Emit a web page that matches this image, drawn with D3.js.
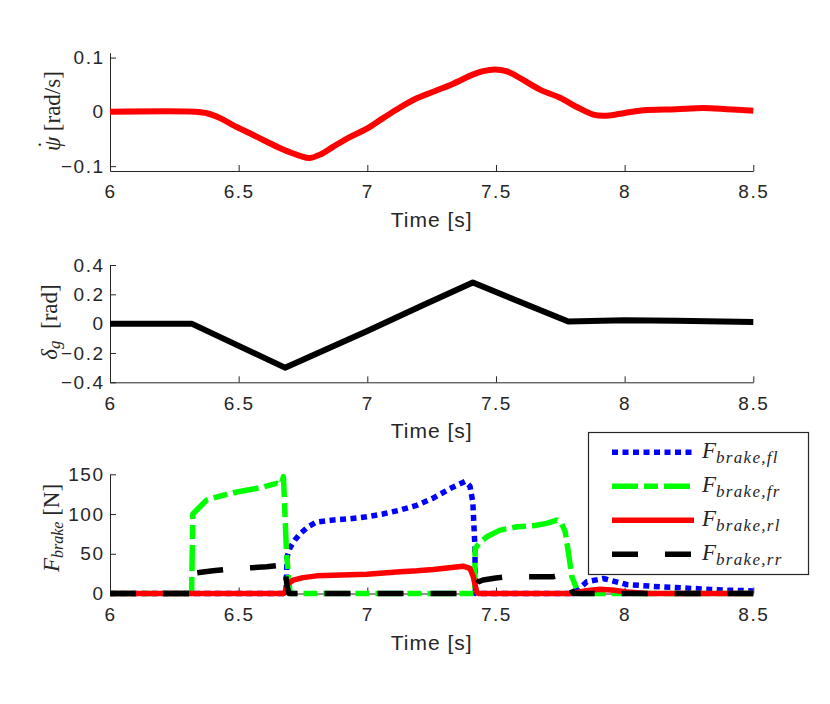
<!DOCTYPE html>
<html>
<head>
<meta charset="utf-8">
<script src="https://cdn.jsdelivr.net/npm/d3@7"></script>
<style>
  body { margin: 0; background: #fff; }
  svg { display: block; }
  .axis text { font-family: "Liberation Sans", Arial, sans-serif; font-size: 19px; letter-spacing: 1.5px; fill: #262626; }
  .axis path, .axis line { stroke: #262626; stroke-width: 1; }
  .xlabel { font-family: "Liberation Sans", Arial, sans-serif; font-size: 21px; letter-spacing: 1px; fill: #262626; }
  .ylabel, .leg { font-family: "Liberation Serif", "Times New Roman", serif; fill: #262626; }
</style>
</head>
<body>
<svg id="chart" width="830" height="704"></svg>
<script>
// ---- data ----
var xTicks = [6, 6.5, 7, 7.5, 8, 8.5];

// yaw rate [rad/s]
var yawT = [6.0, 6.33, 6.38, 6.43, 6.48, 6.545, 6.609, 6.675, 6.738, 6.777, 6.82, 6.868, 6.93, 6.998, 7.06, 7.127,
            7.192, 7.256, 7.334, 7.412, 7.45, 7.496, 7.54, 7.58, 7.671, 7.749, 7.814, 7.878, 7.93, 8.0, 8.072, 8.2,
            8.306, 8.397, 8.5];
var yawV = [0, 0, -0.003, -0.012, -0.025, -0.040, -0.055, -0.070, -0.081, -0.085, -0.078, -0.064, -0.047, -0.031, -0.012, 0.008,
            0.025, 0.037, 0.052, 0.069, 0.075, 0.078, 0.075, 0.066, 0.041, 0.026, 0.009, -0.005, -0.007, -0.002, 0.003, 0.005,
            0.007, 0.005, 0.002];
var yawTicks = [-0.1, 0, 0.1];

// steering angle [rad]
var deltaT = [6.0, 6.317, 6.68, 7.0, 7.205, 7.41, 7.781, 8.0, 8.2, 8.5];
var deltaV = [0, 0, -0.30, -0.05, 0.117, 0.28, 0.014, 0.024, 0.02, 0.012];
var deltaTicks = [-0.4, -0.2, 0, 0.2, 0.4];

// brake forces [N]
var flT = [6.0, 6.684, 6.688, 6.70, 6.72, 6.738, 6.77, 6.803, 6.868, 6.93, 6.998, 7.06, 7.127, 7.192, 7.256, 7.321,
           7.38, 7.399, 7.41, 7.418, 7.42, 7.80, 7.83, 7.853, 7.917, 8.008, 8.137, 8.267, 8.397, 8.5];
var flV = [0, 0, 46, 58, 68, 75, 84, 90, 92.5, 94, 96.5, 100, 105, 111, 120, 132,
           141, 135, 115, 60, 0, 0, 8, 14.7, 18.9, 11.3, 8.4, 6.3, 4.2, 3.3];

var frT = [6.0, 6.317, 6.322, 6.34, 6.376, 6.42, 6.479, 6.53, 6.583, 6.648, 6.665, 6.674, 6.68, 6.686, 6.70,
           7.417, 7.419, 7.44, 7.464, 7.516, 7.581, 7.645, 7.697, 7.736, 7.755, 7.769, 7.782, 7.795, 7.815, 7.83, 8.5];
var frV = [0, 0, 100, 106, 117.6, 122, 126.8, 130, 133, 138.6, 137, 147, 100, 50, 0,
           0, 56.7, 65, 71.4, 79.8, 84, 85.2, 88.2, 92.4, 88, 77.7, 50.4, 21, 5, 0, 0];

var rlT = [6.0, 6.675, 6.68, 6.693, 6.712, 6.75, 6.803, 6.868, 6.998, 7.127, 7.192, 7.256, 7.372, 7.399, 7.412,
           7.425, 7.432, 7.80, 7.85, 7.905, 7.96, 8.008, 8.086, 8.5];
var rlV = [0, 0, 2, 12.6, 16.8, 20, 22.2, 23, 24.3, 27.3, 28.5, 30.2, 34.4, 31.5, 21,
           2, 0, 0, 3.5, 5.4, 4, 2, 0, 0];

var rrT = [6.0, 6.32, 6.325, 6.337, 6.40, 6.479, 6.55, 6.609, 6.661, 6.668, 6.675, 6.68, 6.688, 6.695,
           7.405, 7.415, 7.425, 7.431, 7.45, 7.50, 7.54, 7.645, 7.72, 7.745, 7.765, 7.78, 7.79, 7.80, 8.5];
var rrV = [0, 0, 25, 26, 28.5, 31.5, 32.5, 33.6, 35.7, 40, 42, 30, 10, 0,
           0, 8, 12, 14.7, 17, 19.5, 21, 21, 21, 23, 25, 18, 8, 0, 0];
var forceTicks = [0, 50, 100, 150];

var legendNames = ["fl", "fr", "rl", "rr"];

// ---- drawing ----
var svg = d3.select("#chart");
var x = d3.scaleLinear().domain([6, 8.5]).range([110, 753.3]);

function zip(t, v) {
	return t.map(function(d, i) { return [d, v[i]]; });
}

function panel(top, bottom, domain, ticks, fmt) {
	var y = d3.scaleLinear().domain(domain).range([bottom, top]);
	var g = svg.append("g");
	g.append("g")
		.attr("class", "axis")
		.attr("transform", "translate(0," + bottom + ")")
		.call(d3.axisBottom(x).tickValues(xTicks).tickFormat(d3.format("")).tickSizeInner(-6).tickSizeOuter(0).tickPadding(14));
	g.append("g")
		.attr("class", "axis")
		.attr("transform", "translate(110,0)")
		.call(d3.axisLeft(y).tickValues(ticks).tickFormat(fmt).tickSizeInner(-6).tickSizeOuter(0).tickPadding(5.5));
	g.append("text")
		.attr("class", "xlabel")
		.attr("x", (x.range()[0] + x.range()[1]) / 2)
		.attr("y", bottom + 56)
		.attr("text-anchor", "middle")
		.text("Time [s]");
	return {g: g, y: y};
}

function fmtSmall(d) { return d === 0 ? "0" : d3.format(".1f")(d); }

// yaw rate
var p1 = panel(52.7, 171, [-0.109, 0.109], yawTicks, fmtSmall);
var line1 = d3.line().x(function(d) { return x(d[0]); }).y(function(d) { return p1.y(d[1]); }).curve(d3.curveCatmullRom.alpha(0.5));
p1.g.append("path").datum(zip(yawT, yawV))
	.attr("d", line1).attr("fill", "none").attr("stroke", "#ff0000").attr("stroke-width", 6).attr("stroke-linejoin", "round");
var yl1 = p1.g.append("text").attr("class", "ylabel")
	.attr("transform", "translate(60,111) rotate(-90)").attr("text-anchor", "middle").style("font-size", "23px");
yl1.append("tspan").style("font-style", "italic").text("\u03C8");
yl1.append("tspan").attr("dx", -12).attr("dy", -6).text("\u02D9");
yl1.append("tspan").attr("dx", 4).attr("dy", 6).text(" [rad/s]");

// steering angle
var p2 = panel(265, 382.3, [-0.4, 0.4], deltaTicks, fmtSmall);
var line2 = d3.line().x(function(d) { return x(d[0]); }).y(function(d) { return p2.y(d[1]); });
p2.g.append("path").datum(zip(deltaT, deltaV))
	.attr("d", line2).attr("fill", "none").attr("stroke", "#000000").attr("stroke-width", 6).attr("stroke-linejoin", "round");
var yl2 = p2.g.append("text").attr("class", "ylabel")
	.attr("transform", "translate(57,322) rotate(-90)").attr("text-anchor", "middle").style("font-size", "23px");
yl2.append("tspan").style("font-style", "italic").text("\u03B4");
yl2.append("tspan").style("font-style", "italic").style("font-size", "17px").attr("dy", 3).text("g");
yl2.append("tspan").attr("dy", -3).text("\u2002[rad]");

// brake forces
var p3 = panel(474.3, 593.5, [0, 150], forceTicks, d3.format(""));
var line3 = d3.line().x(function(d) { return x(d[0]); }).y(function(d) { return p3.y(d[1]); });
var series = [
	{t: flT, v: flV, color: "#0000ff", dash: "6,4.5", w: 5.5},
	{t: frT, v: frV, color: "#00ff00", dash: "26,6,14,6", w: 5.5},
	{t: rlT, v: rlV, color: "#ff0000", dash: null, w: 5.5},
	{t: rrT, v: rrV, color: "#000000", dash: "26,27", w: 5.5}
];
series.forEach(function(s) {
	p3.g.append("path").datum(zip(s.t, s.v))
		.attr("d", line3).attr("fill", "none")
		.attr("stroke", s.color).attr("stroke-width", s.w)
		.attr("stroke-dasharray", s.dash).attr("stroke-linejoin", "round");
});
var yl3 = p3.g.append("text").attr("class", "ylabel")
	.attr("transform", "translate(59,528) rotate(-90)").attr("text-anchor", "middle").style("font-size", "23px");
yl3.append("tspan").style("font-style", "italic").text("F");
yl3.append("tspan").style("font-style", "italic").style("font-size", "16px").attr("dy", 4).text("brake");
yl3.append("tspan").attr("dy", -4).text(" [N]");

// legend
var leg = svg.append("g");
leg.append("rect").attr("x", 588.5).attr("y", 432.5).attr("width", 220).attr("height", 142)
	.attr("fill", "#fff").attr("stroke", "#262626").attr("stroke-width", 1.2);
series.forEach(function(s, i) {
	var ry = 452.3 + i * 34;
	leg.append("line").attr("x1", 612).attr("x2", 694).attr("y1", ry).attr("y2", ry)
		.attr("stroke", s.color).attr("stroke-width", s.w).attr("stroke-dasharray", s.dash);
	var t = leg.append("text").attr("class", "leg").attr("x", 702).attr("y", ry + 6).style("font-size", "23px");
	t.append("tspan").style("font-style", "italic").text("F");
	t.append("tspan").style("font-style", "italic").style("font-size", "17px").style("letter-spacing", "1.3px")
		.attr("dy", 5).text("brake," + legendNames[i]);
});
</script>
</body>
</html>
